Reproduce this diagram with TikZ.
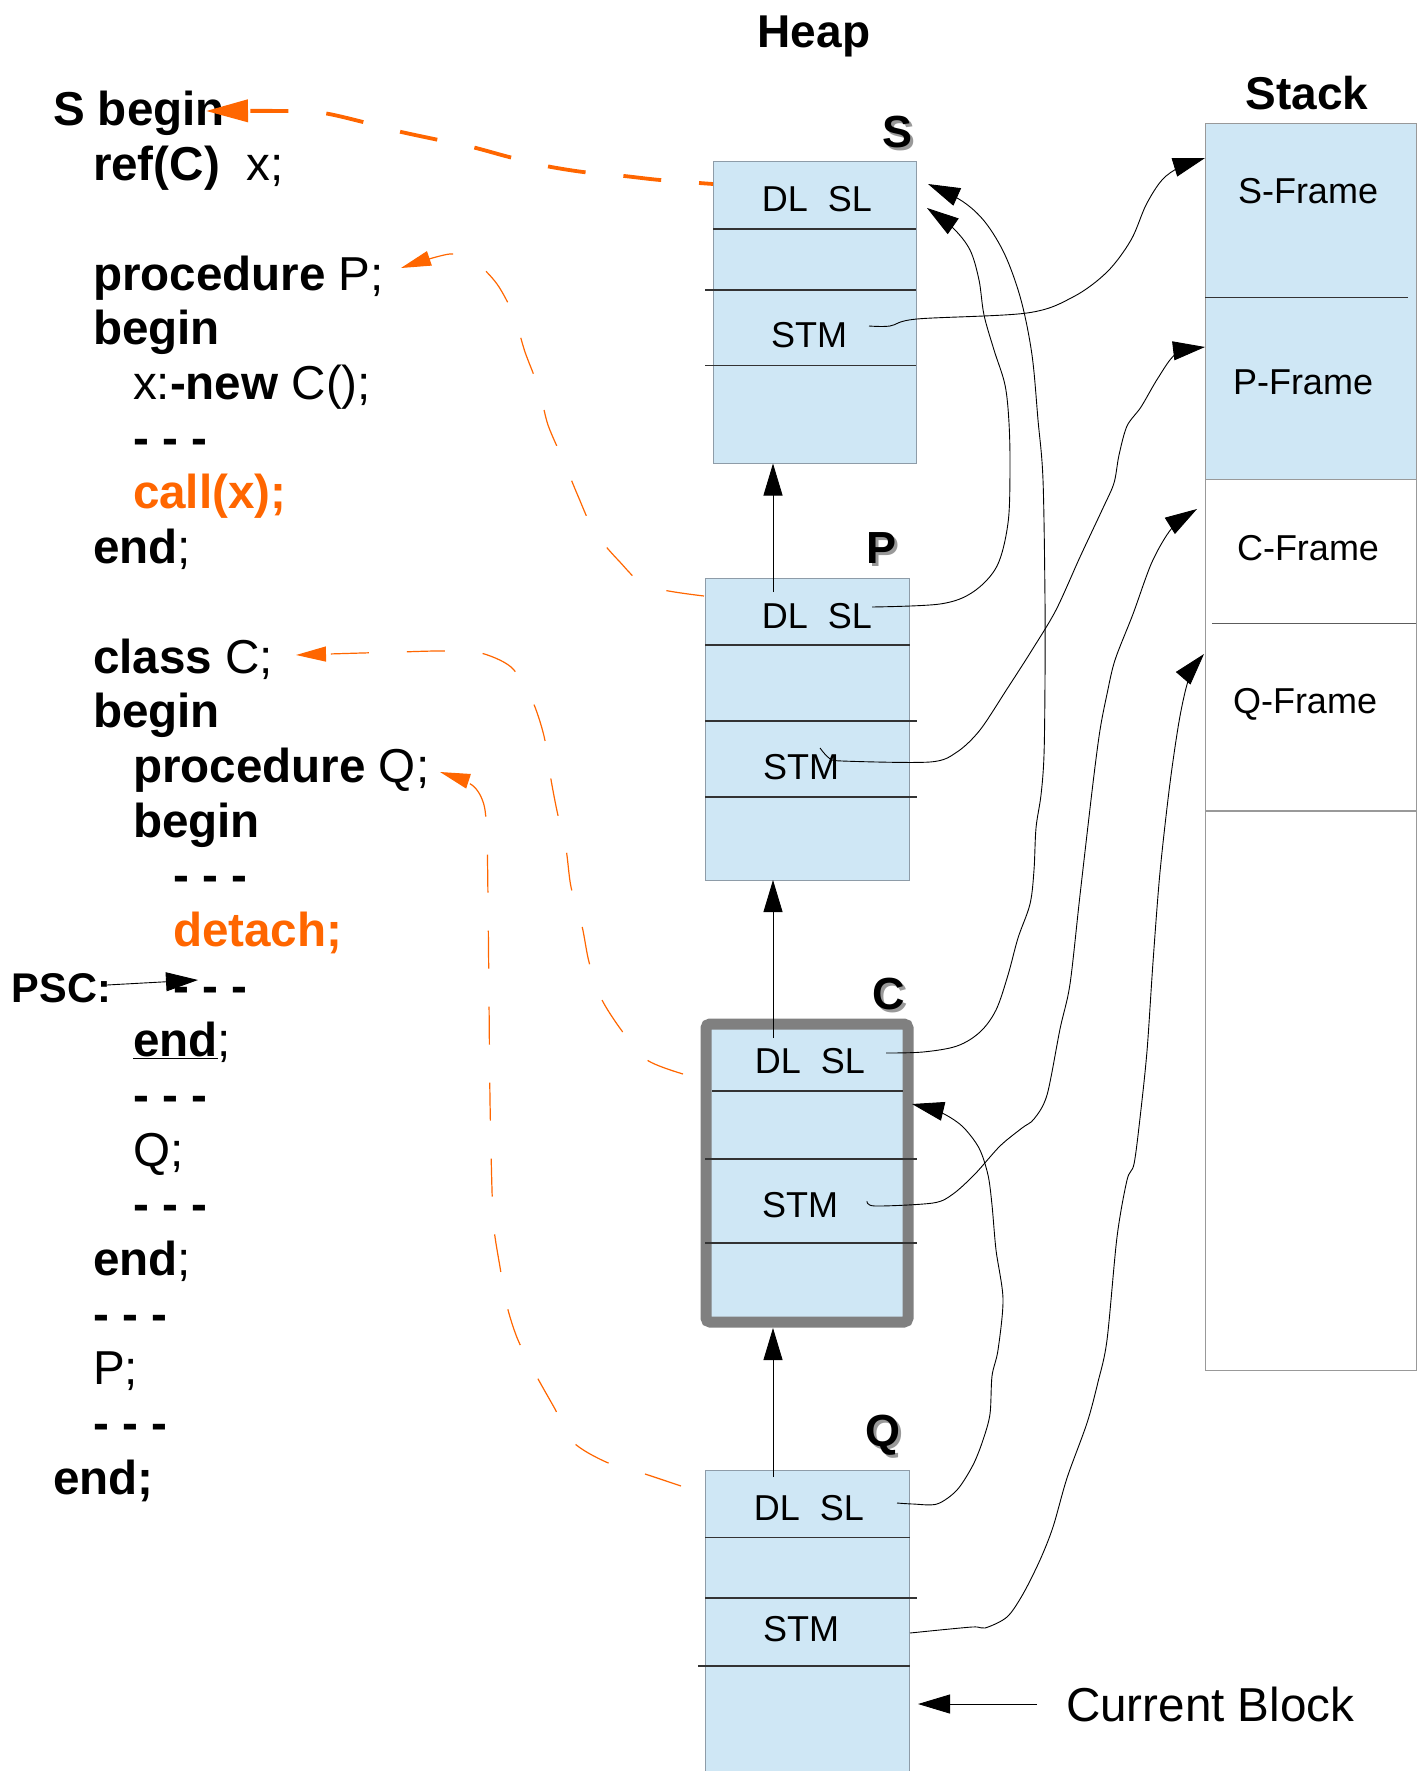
\documentclass[tikz,border=0pt]{standalone}
\usepackage{fontspec}
\setmainfont{Liberation Sans}
\usetikzlibrary{arrows.meta}
\definecolor{orng}{HTML}{FF6600}
\definecolor{boxfill}{HTML}{CFE7F5}
\definecolor{boxline}{HTML}{8E9CA8}
\definecolor{cgray}{HTML}{808080}
\definecolor{stline}{HTML}{999999}
\definecolor{inline}{HTML}{333333}
\newcommand{\codesz}{\fontsize{47.6}{54.7}\selectfont}
\newcommand{\pscsz}{\fontsize{41.5}{50}\selectfont}
\newcommand{\cellsz}{\fontsize{36}{40}\selectfont}
\newcommand{\titlesz}{\fontsize{46}{50}\selectfont\bfseries}
\newcommand{\labsz}{\fontsize{45}{50}\selectfont\bfseries}
\begin{document}
\begin{tikzpicture}[x=1pt,y=-1pt,
  code/.style={anchor=base west,inner sep=0pt,outer sep=0pt,font=\codesz},
  cell/.style={anchor=base,inner sep=0pt,font=\cellsz},
  hbox/.style={draw=boxline,fill=boxfill,line width=1pt,anchor=north west,inner sep=0pt,outer sep=0pt},
  cline/.style={draw=inline,line width=1.1pt},
  hlab/.style={anchor=base west,inner sep=0pt,font=\labsz},
  hlabsh/.style={anchor=base west,inner sep=0pt,font=\labsz,text=black!40},
  blk/.style={-{Triangle[length=32pt,width=19pt]},line width=0.9pt,black},
  othick/.style={-{Triangle[length=42pt,width=22pt]},line width=3.8pt,orng,dash pattern=on 38pt off 38pt,dash phase=24pt},
  othin/.style={-{Triangle[length=30pt,width=15pt]},line width=1.2pt,orng,dash pattern=on 38pt off 38pt}
]
\useasboundingbox (0,0) rectangle (1427,1771);

% ---------- titles
\node[anchor=base,inner sep=0pt,font=\titlesz] (heapT) at (814,48) {Heap};
\node[anchor=base,inner sep=0pt,font=\titlesz] (stackT) at (1307,110) {Stack};

% ---------- code
\node[code] (c0) at (53,126) {\textbf{S begin}};
\node[code] (c1) at (93,180.7) {\textbf{ref(C)}\ \ x;};
\node[code] (c3) at (93,290.1) {\textbf{procedure} P;};
\node[code] (c4) at (93,344.8) {\textbf{begin}};
\node[code] (c5) at (133,399.5) {x:\textbf{-new} C();};
\node[code] (c6) at (133,454.2) {\textbf{- - -}};
\node[code,text=orng] (c7) at (133,508.9) {\textbf{call(x);}};
\node[code] (c8) at (93,563.6) {\textbf{end};};
\node[code] (c10) at (93,673) {\textbf{class} C;};
\node[code] (c11) at (93,727.7) {\textbf{begin}};
\node[code] (c12) at (133,782.4) {\textbf{procedure} Q;};
\node[code] (c13) at (133,837.1) {\textbf{begin}};
\node[code] (c14) at (173,891.8) {\textbf{- - -}};
\node[code,text=orng] (c15) at (173,946.5) {\textbf{detach;}};
\node[code,font=\pscsz] (psc) at (12,1002) {\textbf{PSC:}};
\node[code] (c16) at (173,1002) {\textbf{- - -}};
\node[code] (c17) at (133,1056.7) {\underline{\textbf{end}};};
\node[code] (c18) at (133,1111.4) {\textbf{- - -}};
\node[code] (c19) at (133,1166.1) {Q;};
\node[code] (c20) at (133,1220.8) {\textbf{- - -}};
\node[code] (c21) at (93,1275.5) {\textbf{end};};
\node[code] (c22) at (93,1330.2) {\textbf{- - -}};
\node[code] (c23) at (93,1384.9) {P;};
\node[code] (c24) at (93,1439.6) {\textbf{- - -}};
\node[code] (c25) at (53,1494.3) {\textbf{end;}};

% ---------- heap boxes
\node[hbox,minimum width=203pt,minimum height=301.5pt] (Sbox) at (713,162) {};
\draw[cline] (713,229) -- (916,229);
\draw[cline] (705,290) -- (916,290);
\draw[cline] (705,365.5) -- (916,365.5);
\node[cell] (Sdl) at (817,212) {DL\ \ SL};
\node[cell] (Sstm) at (809,347) {STM};

\node[hbox,minimum width=204.5pt,minimum height=301.5pt] (Pbox) at (705,578.5) {};
\draw[cline] (705,645) -- (909.5,645);
\draw[cline] (705,721) -- (917,721);
\draw[cline] (705,797) -- (917,797);
\node[cell] (Pdl) at (817,628) {DL\ \ SL};
\node[cell] (Pstm) at (801,779) {STM};

\node[draw=cgray,fill=boxfill,line width=11pt,rounded corners=4pt,anchor=north west,inner sep=0pt,outer sep=0pt,minimum width=202pt,minimum height=298pt] (Cbox) at (706,1024) {};
\draw[cline] (712,1091) -- (903,1091);
\draw[cline] (705,1159) -- (917,1159);
\draw[cline] (705,1243) -- (917,1243);
\node[cell] (Cdl) at (810,1073) {DL\ \ SL};
\node[cell] (Cstm) at (800,1217) {STM};

\node[hbox,minimum width=204.5pt,minimum height=320pt] (Qbox) at (705,1470) {};
\draw[cline] (705,1537.6) -- (909.5,1537.6);
\draw[cline] (705,1598) -- (917,1598);
\draw[cline] (698,1666) -- (909.5,1666);
\node[cell] (Qdl) at (809,1520) {DL\ \ SL};
\node[cell] (Qstm) at (801,1641) {STM};

% heap labels with shadow
\node[hlabsh] (Slabs) at (885,151) {S};
\node[hlab] (Slab) at (882,148) {S};
\node[hlabsh] (Plabs) at (869,566) {P};
\node[hlab] (Plab) at (866,563) {P};
\node[hlabsh] (Clabs) at (875,1012) {C};
\node[hlab] (Clab) at (872,1009) {C};
\node[hlabsh] (Qlabs) at (868,1449) {Q};
\node[hlab] (Qlab) at (865,1446) {Q};

% ---------- stack
\fill[boxfill] (1205,124) rectangle (1416,479);
\node[draw=stline,line width=1pt,anchor=north west,inner sep=0pt,outer sep=0pt,minimum width=211pt,minimum height=1246pt] (Stack) at (1205,124) {};
\draw[draw=inline,line width=1pt] (1205,297) -- (1408,297);
\draw[draw=stline,line width=1pt] (1205,479) -- (1416,479);
\draw[draw=inline!80,line width=1pt] (1212,623) -- (1416,623);
\draw[draw=stline,line width=1.2pt] (1205,811) -- (1416,811);
\node[cell] (SF) at (1308,204) {S-Frame};
\node[cell] (PF) at (1303,394) {P-Frame};
\node[cell] (CF) at (1308,560) {C-Frame};
\node[cell] (QF) at (1305,713) {Q-Frame};

% ---------- current block
\node[code] (cur) at (1066,1721.5) {Current Block};
\coordinate (curA) at (1037,1704);
\draw[blk] (curA) -- ([xshift=8.5pt]Qbox.east |- curA);

% ---------- PSC arrow
\coordinate (pscA) at (107,985);
\coordinate (pscB) at (198,980);
\draw[blk] (pscA) -- (pscB);

% ---------- DL chain arrows
\coordinate (pDL) at (773,592);
\coordinate (cDL) at (773,1038);
\coordinate (qDL) at (773,1477);
\draw[blk] (pDL) -- (pDL |- Sbox.south);
\draw[blk] (cDL) -- (cDL |- Pbox.south);
\draw[blk] (qDL) -- (773,1328);

% ---------- black curves
% C SL -> S (upper)
\coordinate (cSL) at (886,1053);
\coordinate (sUp) at (928,184);
\draw[blk] plot[smooth,tension=0.55] coordinates {(cSL) (923,1052) (957,1046) (980,1032) (996,1010) (1008,975) (1018,938) (1030,904) (1034,870) (1036,828) (1041,795) (1044,755) (1045,680) (1045,600) (1043,480) (1038,420) (1032,355) (1021,300) (1005,255) (985,222) (962,201) (sUp)};
% P SL -> S (lower)
\coordinate (pSL) at (872,607);
\coordinate (sLow) at (927,208);
\draw[blk] plot[smooth,tension=0.55] coordinates {(pSL) (940,604) (973,592) (997,566) (1008,523) (1010,470) (1009,423) (1005,385) (994,350) (984,315) (979,280) (970,250) (953,228) (sLow)};
% S STM -> S-Frame
\coordinate (sSTM) at (869,326);
\coordinate (sFr) at (1205,158);
\draw[blk] plot[smooth,tension=0.55] coordinates {(sSTM) (890,326) (917,319) (1027,313) (1073,297) (1107,272) (1131,240) (1146,205) (1162,180) (1180,167) (sFr)};
% P STM -> P-Frame
\coordinate (pSTM) at (820,748);
\coordinate (pFr) at (1205,347);
\draw[blk] plot[smooth,tension=0.5] coordinates {(pSTM) (829,758) (842,761) (930,762) (957,752) (980,730) (1007,689) (1032,650) (1056,610) (1080,557) (1103,508) (1114,483) (1119,455) (1127,426) (1141,407) (1158,378) (1176,354) (pFr)};
% C STM -> C-Frame
\coordinate (cSTM) at (867,1201);
\coordinate (cFr) at (1197,509);
\draw[blk] plot[smooth,tension=0.5] coordinates {(cSTM) (875,1206) (933,1203) (953,1194) (975,1174) (1000,1146) (1022,1128) (1034,1119) (1047,1095) (1060,1029) (1070,984) (1080,895) (1093,783) (1100,730) (1107,694) (1115,660) (1133,614) (1152,562) (1172,528) (cFr)};
% Q STM -> Q-Frame
\coordinate (qSTM) at (910,1633);
\coordinate (qFr) at (1204,654);
\draw[blk] plot[smooth,tension=0.5] coordinates {(qSTM) (972,1627) (985,1628) (1007,1617) (1023,1594) (1040,1560) (1053,1527) (1067,1478) (1087,1423) (1098,1382) (1107,1340) (1117,1237) (1127,1180) (1134,1164) (1140,1118) (1147,1051) (1153,962) (1160,872) (1170,783) (1180,716) (1190,675) (qFr)};
% Q SL -> C
\coordinate (qSL) at (897,1503);
\coordinate (cIn) at (912,1104);
\draw[blk] plot[smooth,tension=0.5] coordinates {(qSL) (913,1504) (937,1504) (957,1490) (973,1465) (983,1440) (990,1414) (992,1376) (998,1350) (1003,1299) (996,1250) (992,1205) (988,1175) (979,1148) (962,1126) (940,1112) (cIn)};

% ---------- orange curves
\coordinate (oS1) at (713,184);
\coordinate (oS2) at (206,111);
\draw[othick] plot[smooth,tension=0.5] coordinates {(oS1) (660,180) (624,176) (583,172) (546,166) (509,157) (472,147) (434,139) (397,131) (359,121) (323,113) (284,111) (oS2)};

\coordinate (oP1) at (704,596);
\coordinate (oP2) at (401,268);
\draw[othin] plot[smooth,tension=0.5] coordinates {(oP1) (647,586) (619,561) (594,531) (578,496) (564,462) (548,425) (539,389) (525,352) (514,316) (497,284) (475,262) (450,254) (oP2)};

\coordinate (oC1) at (683,1074);
\coordinate (oC2) at (296,655);
\draw[othin] plot[smooth,tension=0.5] coordinates {(oC1) (647,1060) (622,1031) (601,998) (589,962) (582,926) (571,887) (566,849) (557,811) (550,774) (544,736) (532,700) (511,667) (477,652) (438,651) (400,652) (362,653) (oC2)};

\coordinate (oQ1) at (681,1486);
\coordinate (oQ2) at (440,772);
\draw[othin] plot[smooth,tension=0.5] coordinates {(oQ1) (642,1473) (606,1462) (573,1442) (555,1409) (537,1377) (518,1340) (507,1306) (500,1267) (494,1229) (492,1190) (490,1100) (489,1000) (488,900) (487,840) (484,805) (472,785) (oQ2)};
\end{tikzpicture}
\end{document}
